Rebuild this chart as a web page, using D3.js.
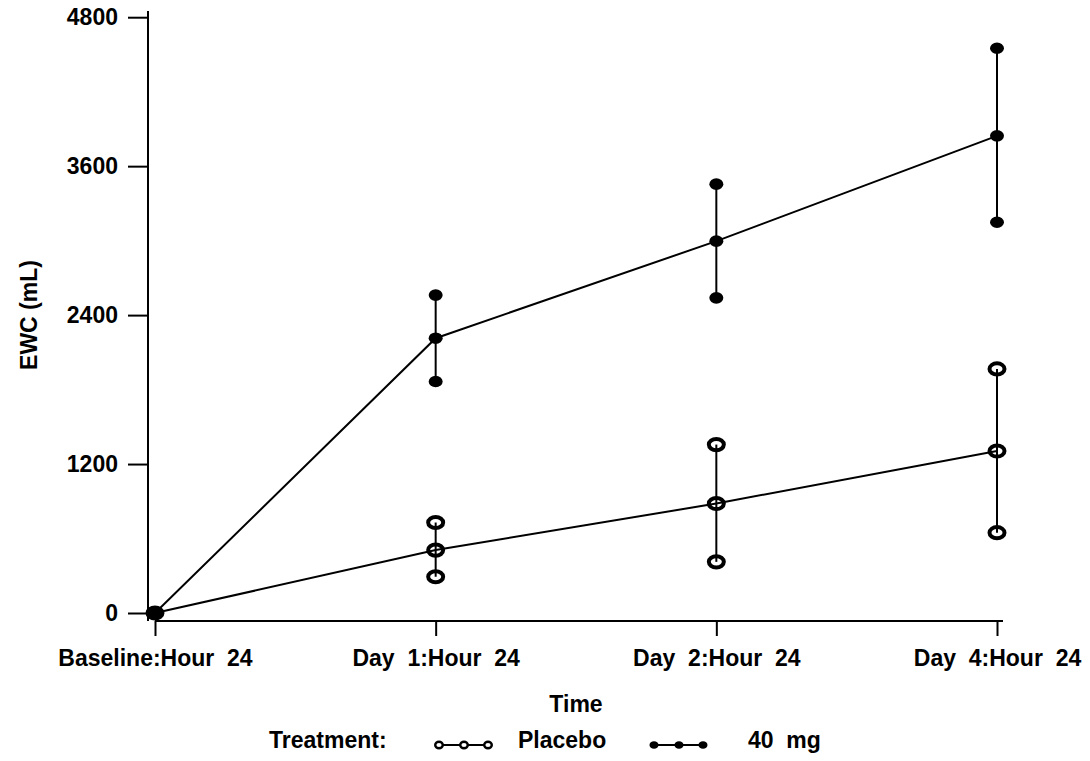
<!DOCTYPE html>
<html>
<head>
<meta charset="utf-8">
<script src="https://cdn.jsdelivr.net/npm/d3@7"></script>
<style>
  body { margin: 0; background: #fff; }
  text { font-family: "Liberation Sans", Arial, sans-serif; font-weight: bold; white-space: pre; }
</style>
</head>
<body>
<svg width="1090" height="761"></svg>
<script>
// values
const times = ["Baseline:Hour  24", "Day  1:Hour  24", "Day  2:Hour  24", "Day  4:Hour  24"]
const yTicks = [0, 1200, 2400, 3600, 4800]

const placeboMean = [0, 507, 882, 1305]
const placeboLow  = [0, 292, 412, 647]
const placeboHigh = [0, 729, 1357, 1966]

const mg40Mean = [0, 2214, 2996, 3844]
const mg40Low  = [0, 1865, 2539, 3148]
const mg40High = [0, 2561, 3455, 4550]

const svg = d3.select("svg")
const fontSize = 23

const x = d3.scalePoint().domain(times).range([155, 997])
const y = d3.scaleLinear().domain([0, 4850]).range([613, 11])
const axisY = 621 // x axis sits a bit below zero
const axisX = 148

// y axis
const yAxis = svg.append("g")
  .attr("transform", "translate(" + axisX + ",0)")
  .call(d3.axisLeft(y).tickValues(yTicks).tickSize(20).tickPadding(10).tickFormat(d3.format("d")))
yAxis.select(".domain").remove()
yAxis.selectAll(".tick line").attr("stroke", "#000").attr("stroke-width", 2)
yAxis.selectAll(".tick text").attr("fill", "#000").style("font-size", fontSize + "px")
svg.append("line")
  .attr("x1", axisX).attr("x2", axisX)
  .attr("y1", y(4850)).attr("y2", axisY)
  .attr("stroke", "#000").attr("stroke-width", 2)

// x axis
const xAxis = svg.append("g")
  .attr("transform", "translate(0," + axisY + ")")
  .call(d3.axisBottom(x).tickSize(15).tickPadding(14))
xAxis.select(".domain").remove()
xAxis.selectAll(".tick line").attr("stroke", "#000").attr("stroke-width", 2)
xAxis.selectAll(".tick text").attr("fill", "#000").style("font-size", fontSize + "px")
svg.append("line")
  .attr("x1", x(times[0])).attr("x2", x(times[3]) + 6)
  .attr("y1", axisY).attr("y2", axisY)
  .attr("stroke", "#000").attr("stroke-width", 2)

// axis titles
svg.append("text")
  .attr("x", 576).attr("y", 712)
  .attr("text-anchor", "middle")
  .style("font-size", fontSize + "px")
  .text("Time")
svg.append("text")
  .attr("transform", "translate(37,315) rotate(-90)")
  .attr("text-anchor", "middle")
  .style("font-size", fontSize + "px")
  .text("EWC (mL)")

function drawSeries(mean, low, high, filled) {
  const g = svg.append("g")
  const line = d3.line().x((d, i) => x(times[i])).y(d => y(d))

  g.append("path")
    .attr("d", line(mean))
    .attr("fill", "none")
    .attr("stroke", "#000")
    .attr("stroke-width", 2)

  // error bars, skip baseline
  times.forEach((t, i) => {
    if (i === 0) return
    g.append("line")
      .attr("x1", x(t)).attr("x2", x(t))
      .attr("y1", y(low[i])).attr("y2", y(high[i]))
      .attr("stroke", "#000").attr("stroke-width", 2)
  })

  const pts = []
  times.forEach((t, i) => {
    pts.push({ t: t, v: mean[i] })
    if (i > 0) {
      pts.push({ t: t, v: low[i] })
      pts.push({ t: t, v: high[i] })
    }
  })

  g.selectAll("ellipse")
    .data(pts)
    .join("ellipse")
    .attr("cx", d => x(d.t))
    .attr("cy", d => y(d.v))
    .attr("rx", filled ? 7 : 7.5)
    .attr("ry", filled ? 5.8 : 5.6)
    .attr("fill", filled ? "#000" : "none")
    .attr("stroke", "#000")
    .attr("stroke-width", filled ? 0 : 4)
}

drawSeries(placeboMean, placeboLow, placeboHigh, false)
drawSeries(mg40Mean, mg40Low, mg40High, true)

// legend
const legendY = 745
const legend = svg.append("g")
legend.append("text")
  .attr("x", 269).attr("y", 748)
  .style("font-size", fontSize + "px")
  .text("Treatment:")

function legendItem(x0, label, labelX, filled) {
  const xs = [x0, x0 + 25, x0 + 49]
  legend.append("line")
    .attr("x1", xs[0]).attr("x2", xs[2])
    .attr("y1", legendY).attr("y2", legendY)
    .attr("stroke", "#000").attr("stroke-width", 2)
  legend.selectAll(null)
    .data(xs)
    .join("ellipse")
    .attr("cx", d => d)
    .attr("cy", legendY)
    .attr("rx", filled ? 4.5 : 3.8)
    .attr("ry", filled ? 3.8 : 3.2)
    .attr("fill", filled ? "#000" : "#fff")
    .attr("stroke", "#000")
    .attr("stroke-width", filled ? 0 : 2.4)
  legend.append("text")
    .attr("x", labelX).attr("y", 748)
    .style("font-size", fontSize + "px")
    .text(label)
}

legendItem(439, "Placebo", 518, false)
legendItem(654, "40  mg", 748, true)
</script>
</body>
</html>
